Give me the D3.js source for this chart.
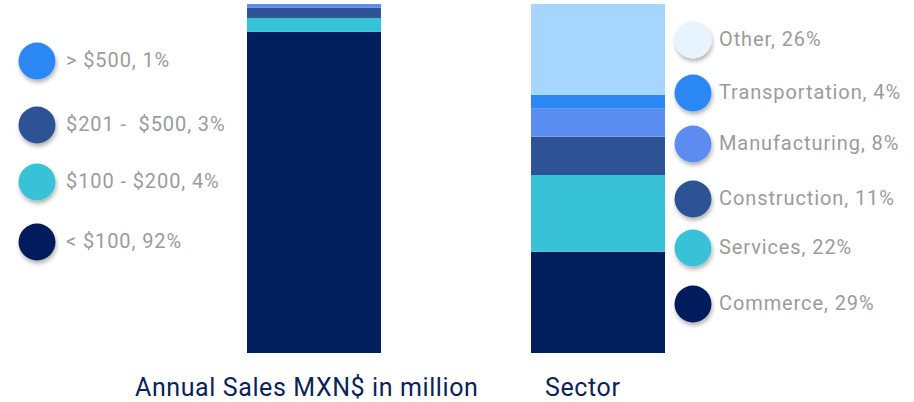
<!DOCTYPE html>
<meta charset="utf-8">
<body>
<script src="https://cdn.jsdelivr.net/npm/d3@7"></script>
<style>
    html, body {
        margin: 0;
        background: #fff;
    }
    text {
        font-family: Roboto, sans-serif;
        white-space: pre;
    }
</style>
<script>
var width = 914,
    height = 402;

// annual sales bar, bottom to top
var salesLabels = ["< $100", "$100 - $200", "$201 -  $500", "> $500"],
    salesValues = [92, 4, 3, 1],
    salesBarColors = ["#001f5c", "#37c2d8", "#2d5394", "#5b8cf0"],
    salesDotColors = ["#001f5c", "#37c2d8", "#2d5394", "#2a87f3"];

// sector bar, bottom to top
var sectorLabels = ["Commerce", "Services", "Construction", "Manufacturing", "Transportation", "Other"],
    sectorValues = [29, 22, 11, 8, 4, 26],
    sectorBarColors = ["#001f5c", "#37c2d8", "#2d5394", "#5b8cf0", "#2a87f3", "#a6d6fd"],
    sectorDotColors = ["#001f5c", "#37c2d8", "#2d5394", "#5b8cf0", "#2a87f3", "#e8f4fd"];

var svg = d3.select("body").append("svg")
    .attr("width", width)
    .attr("height", height);

svg.append("defs").append("filter")
    .attr("id", "shadow")
    .attr("x", "-50%").attr("y", "-50%")
    .attr("width", "200%").attr("height", "200%")
    .append("feDropShadow")
    .attr("dx", 1)
    .attr("dy", 3)
    .attr("stdDeviation", 2)
    .attr("flood-color", "#000")
    .attr("flood-opacity", 0.3);

var y = d3.scaleLinear().domain([0, 100]).range([353, 4]);

var x = d3.scaleOrdinal().domain(["sales", "sector"]).range([247, 531]),
    barWidth = 134;

function stack(values) {
    var acc = 0;
    return values.map(function(v) {
        var d = { y0: acc, y1: acc + v };
        acc += v;
        return d;
    });
}

function drawBar(key, values, colors) {
    svg.append("g").selectAll("rect")
        .data(stack(values))
        .enter().append("rect")
        .attr("x", x(key))
        .attr("width", barWidth)
        .attr("y", function(d) { return y(d.y1); })
        .attr("height", function(d) { return y(d.y0) - y(d.y1); })
        .attr("fill", function(d, i) { return colors[i]; });
}

drawBar("sales", salesValues, salesBarColors);
drawBar("sector", sectorValues, sectorBarColors);

// legend rows, same order as the data
var salesLegendY = [242, 182, 125, 61],
    sectorLegendY = [304, 248, 199, 144, 93, 40];

function drawLegend(cx, tx, labels, values, colors, ys) {
    var g = svg.append("g").selectAll("g")
        .data(labels)
        .enter().append("g")
        .attr("transform", function(d, i) { return "translate(0," + ys[i] + ")"; });

    g.append("circle")
        .attr("cx", cx)
        .attr("r", 18.5)
        .attr("fill", function(d, i) { return colors[i]; })
        .attr("filter", "url(#shadow)");

    g.append("text")
        .attr("x", tx)
        .attr("y", 6)
        .attr("fill", "#9b9b9b")
        .style("font-size", "20px")
        .style("letter-spacing", "0.9px")
        .text(function(d, i) { return d + ", " + values[i] + "%"; });
}

drawLegend(37, 66, salesLabels, salesValues, salesDotColors, salesLegendY);
drawLegend(693, 719, sectorLabels, sectorValues, sectorDotColors, sectorLegendY);

// titles
svg.append("text")
    .attr("x", 135)
    .attr("y", 396)
    .attr("fill", "#0b2358")
    .style("font-size", "25px")
    .style("letter-spacing", "0.6px")
    .text("Annual Sales MXN$ in million");

svg.append("text")
    .attr("x", 545)
    .attr("y", 396)
    .attr("fill", "#0b2358")
    .style("font-size", "25px")
    .style("letter-spacing", "0.6px")
    .text("Sector");
</script>
